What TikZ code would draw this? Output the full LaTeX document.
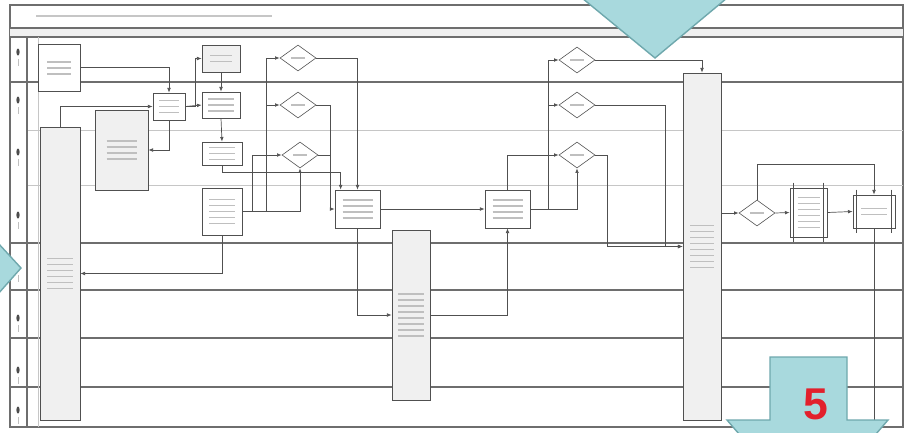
\documentclass[tikz,border=0pt]{standalone}
\usepackage{fontspec}
\newfontfamily\numfont{Liberation Sans}
\usetikzlibrary{arrows.meta,shapes.geometric,calc}
\definecolor{lanegray}{HTML}{6E6E6E}
\definecolor{linegray}{HTML}{505050}
\definecolor{tealfill}{HTML}{A8D9DD}
\definecolor{tealedge}{HTML}{6FA8AD}
\definecolor{numred}{HTML}{E2202C}
\tikzset{
  sz/.style 2 args={minimum width=#1*0.3mm,minimum height=#2*0.3mm},
  lane/.style={draw=lanegray,line width=1pt},
  lanel/.style={draw=gray!45,line width=0.7pt},
  bx/.style={draw=linegray,fill=white,line width=0.6pt,inner sep=0pt},
  gbx/.style={bx,fill=gray!12},
  dia/.style={draw=linegray,fill=white,diamond,inner sep=0pt,line width=0.5pt,sz={36}{26}},
  cn/.style={draw=linegray,line width=0.6pt,-{Latex[length=1.4mm,width=1.1mm]}},
  ln/.style={draw=linegray,line width=0.6pt},
  txt/.style={draw=gray!50,line width=0.9pt},
  bigarr/.style={fill=tealfill,draw=tealedge,line width=1.2pt,line join=miter},
}
\newcommand{\fk}[3]{\foreach \k in {1,...,#2}{\draw[txt] ($(#1.center)+({-#3/2},{(\k-(#2+1)/2)*6})$) -- ++(#3,0);}}

\begin{document}
\begin{tikzpicture}[x=0.3mm,y=-0.3mm]
  \useasboundingbox (0,0) rectangle (904,432);
  % frame, title and lanes
  \draw[lane] (10,5) rectangle (903,427);
  \fill[gray!12] (10,28) rectangle (903,37);
  \draw[lane] (10,28) -- (903,28);
  \draw[lane] (10,37) -- (903,37);
  \draw[gray!45,line width=2pt] (36,16) -- (272,16);
  \foreach \y in {82,243,290,338,387} \draw[lane] (10,\y) -- (903,\y);
  \foreach \y in {130,185} \draw[lanel] (27,\y) -- (903,\y);
  \draw[lane] (27,37) -- (27,427);
  \draw[lanel] (38,37) -- (38,427);
  \foreach \y in {52,100,152,215,268,318,370,410} {
    \fill[black!70] (18,\y) ellipse (1.6 and 3.5);
    \draw[txt,line width=0.6pt] (18,\y+7) -- (18,\y+14);
  }

  % tasks
  \node[bx,sz={42}{47}] (A) at (59,68) {};
  \node[gbx,sz={40}{293}] (B) at (60,273.5) {};
  \node[bx,sz={32}{27}] (C) at (169,106.5) {};
  \node[gbx,sz={53}{80}] (D) at (121.5,150) {};
  \node[gbx,sz={38}{27}] (E) at (221,58.5) {};
  \node[bx,sz={38}{26}] (F) at (221,105) {};
  \node[bx,sz={40}{23}] (G) at (222,153.5) {};
  \node[bx,sz={40}{47}] (H) at (222,211.5) {};
  \node[dia] (D1) at (298,58) {};
  \node[dia] (D2) at (298,105) {};
  \node[dia] (D3) at (300,155) {};
  \node[bx,sz={45}{38}] (I) at (357.5,209) {};
  \node[gbx,sz={38}{170}] (J) at (411,315) {};
  \node[bx,sz={45}{38}] (K) at (507.5,209) {};
  \node[dia] (D4) at (577,60) {};
  \node[dia] (D5) at (577,105) {};
  \node[dia] (D6) at (577,155) {};
  \node[gbx,sz={38}{347}] (L) at (702,246.5) {};
  \node[dia] (D7) at (757,213) {};
  \node[bx,sz={37}{49}] (M) at (808.5,212.5) {};
  \node[bx,sz={42}{33}] (N) at (874,211.5) {};
  \coordinate (nend) at (874,427);
  \foreach \n in {M,N} {
    \draw[ln] ($(\n.north west)+(4,-5)$) -- ($(\n.south west)+(4,5)$);
    \draw[ln] ($(\n.north east)+(-4,-5)$) -- ($(\n.south east)+(-4,5)$);
  }

  \fk{A}{3}{24} \fk{B}{6}{26} \fk{C}{3}{20} \fk{D}{4}{30}
  \fk{E}{2}{22} \fk{F}{3}{26} \fk{G}{3}{26} \fk{H}{5}{26}
  \fk{I}{4}{30} \fk{J}{8}{26} \fk{K}{4}{30} \fk{L}{8}{24}
  \fk{M}{6}{22} \fk{N}{2}{26}
  \foreach \n in {D1,D2,D3,D4,D5,D6,D7} {\fk{\n}{1}{14}}

  % flows
  \draw[cn] (A.east |- 0,67) -| (C.north);
  \draw[cn] (B.north) |- (C.west);
  \draw[cn] (C.east) -- ++(10,0) |- (E.west);
  \draw[cn] (C.east) -- (F.west);
  \draw[cn] (C.south) |- (D.east);
  \draw[cn] (E.south) -- (F.north);
  \draw[cn] (F.south) -- (G.north);
  \draw[cn] (G.south) |- ($(I.north west)+(6,-17)$) -- ($(I.north west)+(6,0)$);
  \draw[cn] (H.south) |- (B.east);
  \draw[cn] (H.east) -| (D3.south);
  \draw[cn] (H.east) -- ++(10,0) |- (D3.west);
  \draw[cn] (H.east) -- ++(24,0) |- (D1.west);
  \draw[cn] ($(H.east)+(24,0)$) |- (D2.west);
  \draw[cn] (D1.east) -| (I.north);
  \draw[ln] (D2.east) -| ($(D3.east)+(12,0)$);
  \draw[cn] (D3.east) -- ++(12,0) |- (I.west);
  \draw[cn] (I.east) -- (K.west);
  \draw[cn] (I.south) |- (J.west);
  \draw[cn] (J.east) -| (K.south);
  \draw[cn] (K.north) |- (D6.west);
  \draw[cn] (K.east) -| (D6.south);
  \draw[cn] (K.east) -- ++(18,0) |- (D4.west);
  \draw[cn] ($(K.east)+(18,0)$) |- (D5.west);
  \draw[cn] (D4.east) -| (L.north);
  \draw[cn] (D5.east) -- ++(70,0) |- (L.west);
  \draw[cn] (D6.east) -- ++(12,0) |- (L.west);
  \draw[cn] (L.east |- D7.west) -- (D7.west);
  \draw[cn] (D7.east) -- (M.west);
  \draw[cn] (M.east) -- (N.west);
  \draw[cn] (D7.north) -- ++(0,-35) -| (N.north);
  \draw[ln] (N.south) -- (nend);

  % big arrows
  \draw[bigarr] (582,-2) -- (655,58) -- (727,-2);
  \draw[bigarr] (-2,243) -- (21,268) -- (-2,294);
  \fill[tealfill] (770,357) -- (847,357) -- (847,420) -- (888,420) -- (876,434)
    -- (739,434) -- (727,420) -- (770,420) -- cycle;
  \draw[bigarr,fill=none] (739,434) -- (727,420) -- (770,420) -- (770,357)
    -- (847,357) -- (847,420) -- (888,420) -- (876,434);
  \node[text=numred,font=\numfont\bfseries\fontsize{38}{40}\selectfont] (five) at (816,404) {5};
\end{tikzpicture}
\end{document}
